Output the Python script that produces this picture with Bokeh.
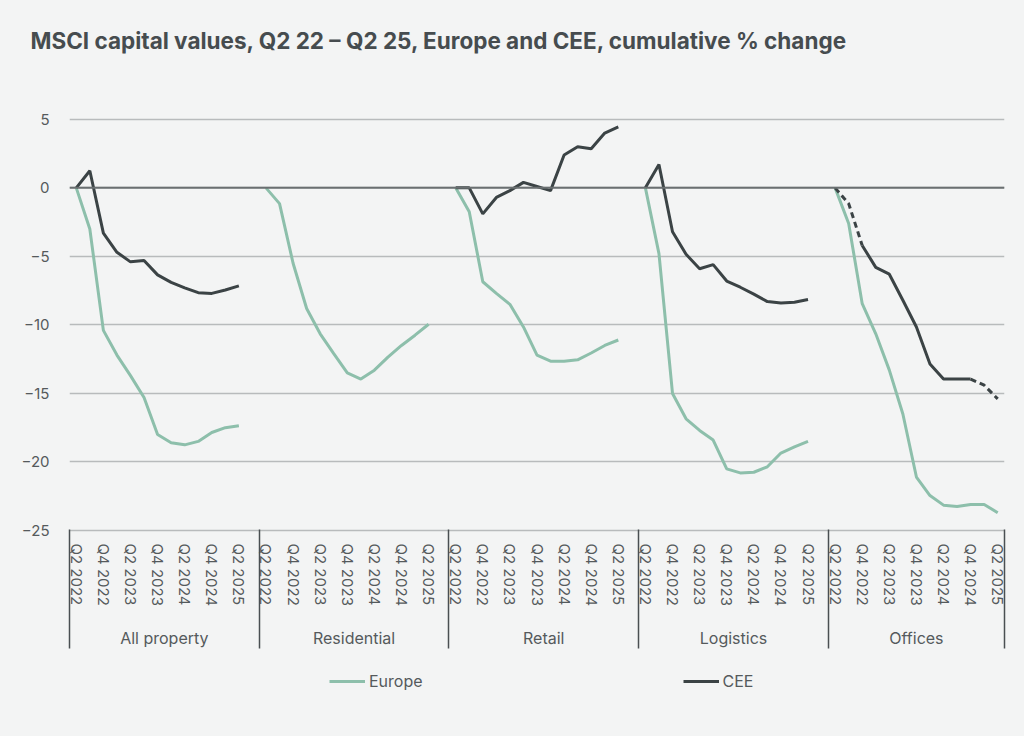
from bokeh.plotting import figure
from bokeh.layouts import column
from bokeh.models import FixedTicker, LinearAxis, Span, Legend, LegendItem, Range1d
from bokeh.embed import file_html
from bokeh.resources import INLINE

quarters = ["Q2 2022", "Q3 2022", "Q4 2022", "Q1 2023", "Q2 2023", "Q3 2023", "Q4 2023",
            "Q1 2024", "Q2 2024", "Q3 2024", "Q4 2024", "Q1 2025", "Q2 2025"]
sectors = ["All property", "Residential", "Retail", "Logistics", "Offices"]

europe_all = [0, -3.0, -10.4, -12.2, -13.7, -15.3, -18.0, -18.6, -18.75, -18.5, -17.85, -17.5, -17.35]
europe_res = [0, -1.15, -5.5, -8.8, -10.65, -12.1, -13.5, -13.95, -13.3, -12.35, -11.5, -10.75, -9.95]
europe_ret = [0, -1.75, -6.85, -7.7, -8.5, -10.15, -12.2, -12.65, -12.65, -12.55, -12.05, -11.5, -11.1]
europe_log = [0, -4.8, -15.0, -16.85, -17.7, -18.4, -20.5, -20.8, -20.75, -20.35, -19.35, -18.9, -18.5]
europe_off = [0, -2.6, -8.45, -10.65, -13.3, -16.5, -21.1, -22.45, -23.15, -23.25, -23.1, -23.1, -23.7]

cee_all = [0, 1.25, -3.3, -4.7, -5.4, -5.3, -6.35, -6.9, -7.3, -7.65, -7.7, -7.45, -7.15]
cee_res = None
cee_ret = [0, 0, -1.9, -0.7, -0.2, 0.4, 0.1, -0.2, 2.4, 3.0, 2.85, 4.0, 4.45]
cee_log = [0, 1.7, -3.2, -4.85, -5.9, -5.6, -6.8, -7.25, -7.75, -8.3, -8.4, -8.35, -8.15]
cee_off = [0, -1.15, -4.2, -5.8, -6.3, -8.2, -10.15, -12.85, -13.95, -13.95, -13.95, -14.4, -15.4]
# CEE offices: first two and last two quarterly steps drawn dashed
cee_off_dashed_ranges = [(0, 2), (10, 12)]

y_ticks = [-25, -20, -15, -10, -5, 0, 5]

EU_COLOR = "#8dbfab"
CEE_COLOR = "#3b4345"
BG = "#f3f4f4"
TXT = "#555a5c"
FONT = "Inter"

europe_series = [europe_all, europe_res, europe_ret, europe_log, europe_off]
cee_series = [cee_all, cee_res, cee_ret, cee_log, cee_off]

slots = len(quarters) + 1  # one blank slot between groups
n_groups = len(sectors)
x_end = slots * (n_groups - 1) + len(quarters) - 0.5

W = 1024
H_MAIN = 660
H_LEG = 76

p = figure(width=W, height=H_MAIN, output_backend="svg", toolbar_location=None,
           x_range=Range1d(-0.5, x_end), y_range=Range1d(-25, 9.0),
           min_border_left=69, min_border_right=20, min_border_top=64, min_border_bottom=130,
           background_fill_color=BG, border_fill_color=BG, outline_line_color=None)

p.title.text = "MSCI capital values, Q2 22 \u2013 Q2 25, Europe and CEE, cumulative % change"
p.title.text_font = FONT
p.title.text_font_size = "22.5px"
p.title.text_font_style = "bold"
p.title.text_color = "#464c4f"
p.title.offset = -39
p.title.standoff = 22

# y axis
p.yaxis.ticker = FixedTicker(ticks=y_ticks)
p.yaxis.axis_line_color = None
p.yaxis.major_tick_line_color = None
p.yaxis.minor_tick_line_color = None
p.yaxis.major_label_text_font = FONT
p.yaxis.major_label_text_font_size = "15px"
p.yaxis.major_label_text_color = TXT
p.yaxis.major_label_standoff = 14

p.xgrid.grid_line_color = None
p.ygrid.ticker = FixedTicker(ticks=y_ticks)
p.ygrid.grid_line_color = "#b8bbbc"
p.ygrid.grid_line_width = 1.5

p.add_layout(Span(location=0, dimension="width", line_color="#6a6f71", line_width=2))

# x axis 1: quarter labels
p.xaxis.visible = False
tick_pos = []
overrides = {}
for g in range(n_groups):
    for i in range(0, len(quarters), 2):
        x = g * slots + i
        tick_pos.append(x)
        overrides[x] = quarters[i]
ax1 = LinearAxis(ticker=FixedTicker(ticks=tick_pos),
                 major_label_overrides=overrides, major_label_orientation="vertical")
ax1.axis_line_color = "#b8bbbc"
ax1.axis_line_width = 1.5
ax1.major_tick_line_color = None
ax1.minor_tick_line_color = None
ax1.major_tick_out = 0
ax1.major_tick_in = 0
ax1.major_label_text_font = FONT
ax1.major_label_text_font_size = "15px"
ax1.major_label_text_color = TXT
ax1.major_label_standoff = 13
p.add_layout(ax1, "below")

# x axis 2: sector labels, with group separators drawn as minor ticks
seps = [-0.5] + [g * slots - 0.5 for g in range(1, n_groups)] + [x_end]
centers = [g * slots + (len(quarters)) / 2 - 0.5 + (0.5 if g < n_groups - 1 else 0) for g in range(n_groups)]
ax2 = LinearAxis(ticker=FixedTicker(ticks=centers, minor_ticks=seps),
                 major_label_overrides={c: s for c, s in zip(centers, sectors)})
ax2.axis_line_color = None
ax2.major_tick_line_color = None
ax2.major_tick_out = 0
ax2.major_tick_in = 0
ax2.minor_tick_line_color = "#4a4f52"
ax2.minor_tick_line_width = 1.5
ax2.minor_tick_in = 80
ax2.minor_tick_out = 39
ax2.major_label_text_font = FONT
ax2.major_label_text_font_size = "16px"
ax2.major_label_text_color = TXT
ax2.major_label_standoff = -21
p.add_layout(ax2, "below")

for g in range(n_groups):
    xs = [g * slots + i for i in range(len(quarters))]
    p.line(xs, europe_series[g], line_color=EU_COLOR, line_width=3)
    cs = cee_series[g]
    if cs is None:
        continue
    if g == 4:
        a, b = cee_off_dashed_ranges[0][1], cee_off_dashed_ranges[1][0]
        p.line(xs[a:b + 1], cs[a:b + 1], line_color=CEE_COLOR, line_width=3)
        for (s, e) in cee_off_dashed_ranges:
            p.line(xs[s:e + 1], cs[s:e + 1], line_color=CEE_COLOR, line_width=3, line_dash="6 4")
    else:
        p.line(xs, cs, line_color=CEE_COLOR, line_width=3)

# legend strip below the chart (its series renderers sit outside its visible range)
pl = figure(width=W, height=H_LEG, output_backend="svg", toolbar_location=None,
            x_range=Range1d(1000, 1001), y_range=Range1d(1000, 1001),
            min_border_left=0, min_border_right=0, min_border_top=0, min_border_bottom=0,
            background_fill_color=None, border_fill_color=BG, outline_line_color=None)
pl.axis.visible = False
pl.grid.visible = False
xs0 = list(range(len(quarters)))
leg_eu = pl.line(xs0, europe_all, line_color=EU_COLOR, line_width=3)
leg_cee = pl.line(xs0, cee_all, line_color=CEE_COLOR, line_width=3)
legend = Legend(items=[LegendItem(label="Europe", renderers=[leg_eu]),
                       LegendItem(label="CEE", renderers=[leg_cee])],
                orientation="horizontal", location=(260, 45), spacing=260,
                glyph_width=36, glyph_height=18, label_standoff=4, padding=0, margin=0,
                background_fill_alpha=0, border_line_color=None,
                label_text_font=FONT, label_text_font_size="16px", label_text_color=TXT)
pl.add_layout(legend, "center")

layout = column(p, pl, spacing=0, styles={"background-color": BG})
open("out.html", "w").write(file_html(layout, INLINE))
